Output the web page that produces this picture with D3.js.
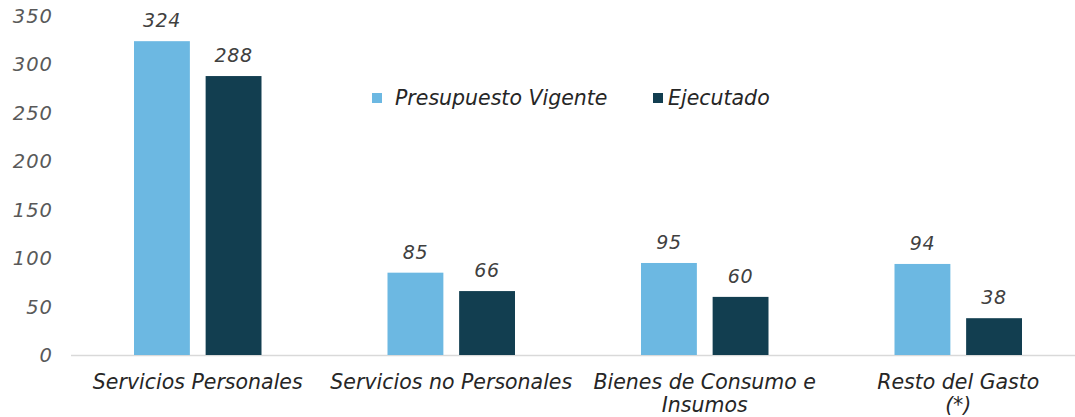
<!DOCTYPE html>
<html>
<head>
<meta charset="utf-8">
<script src="https://cdn.jsdelivr.net/npm/d3@7"></script>
<style>
    body { margin: 0; background: #fff; }
    svg text { font-family: "DejaVu Sans", sans-serif; font-style: italic; }
</style>
</head>
<body>
<svg id="chart" width="1075" height="417"></svg>
<script>
'use strict';

const categories = [
    ['Servicios Personales'],
    ['Servicios no Personales'],
    ['Bienes de Consumo e', 'Insumos'],
    ['Resto del Gasto', '(*)']
];
const seriesNames = ['Presupuesto Vigente', 'Ejecutado'];
const presupuesto = [324, 85, 95, 94];
const ejecutado = [288, 66, 60, 38];
const yTicks = [0, 50, 100, 150, 200, 250, 300, 350];

const colors = ['#6cb8e2', '#123e50'];

const svg = d3.select('#chart');
const margin = { left: 71, right: -10, top: 16, bottom: 62 };
const width = 1075 - margin.left - margin.right;
const height = 417 - margin.top - margin.bottom;

const g = svg.append('g').attr('transform', `translate(${margin.left},${margin.top})`);

const x = d3.scaleBand()
    .domain(d3.range(categories.length))
    .range([0, width]);

const x1 = d3.scaleBand()
    .domain(d3.range(seriesNames.length))
    .range([63, x.bandwidth() - 63])
    .paddingInner(0.22);

const y = d3.scaleLinear().domain([0, 350]).range([height, 0]);

// y axis labels
g.append('g')
    .selectAll('text')
    .data(yTicks)
    .join('text')
    .attr('x', -18)
    .attr('y', d => y(d))
    .attr('dy', '0.36em')
    .attr('text-anchor', 'end')
    .attr('fill', '#595959')
    .style('font-size', '19.5px')
    .style('letter-spacing', '1px')
    .text(d => d);

// baseline
g.append('line')
    .attr('x1', 0)
    .attr('x2', 1075 - margin.left)
    .attr('y1', y(0) + 0.5)
    .attr('y2', y(0) + 0.5)
    .attr('stroke', '#d9d9d9')
    .attr('stroke-width', 1.5);

const rows = categories.map((c, i) => [presupuesto[i], ejecutado[i]]);

const groups = g.selectAll('.group')
    .data(rows)
    .join('g')
    .attr('class', 'group')
    .attr('transform', (d, i) => `translate(${x(i)},0)`);

groups.selectAll('rect')
    .data(d => d)
    .join('rect')
    .attr('x', (d, j) => x1(j))
    .attr('y', d => y(d))
    .attr('width', x1.bandwidth())
    .attr('height', d => y(0) - y(d))
    .attr('fill', (d, j) => colors[j]);

groups.selectAll('.value')
    .data(d => d)
    .join('text')
    .attr('class', 'value')
    .attr('x', (d, j) => x1(j) + x1.bandwidth() / 2)
    .attr('y', d => y(d) - 14)
    .attr('text-anchor', 'middle')
    .attr('fill', '#404040')
    .style('font-size', '19px')
    .style('letter-spacing', '0.6px')
    .text(d => d);

// category labels
g.append('g')
    .selectAll('text')
    .data(categories)
    .join('text')
    .attr('x', (d, i) => x(i) + x.bandwidth() / 2)
    .attr('y', height + 34)
    .attr('text-anchor', 'middle')
    .attr('fill', '#262626')
    .style('font-size', '20.5px')
    .each(function(lines) {
        d3.select(this).selectAll('tspan')
            .data(lines)
            .join('tspan')
            .attr('x', d3.select(this).attr('x'))
            .attr('dy', (d, k) => k === 0 ? 0 : 23)
            .text(d => d);
    });

// legend
const legend = svg.append('g');
const legendItems = [
    { name: seriesNames[0], color: colors[0], x: 372, gap: 23 },
    { name: seriesNames[1], color: colors[1], x: 653, gap: 15 }
];
legendItems.forEach(item => {
    legend.append('rect')
        .attr('x', item.x)
        .attr('y', 93)
        .attr('width', 10)
        .attr('height', 10)
        .attr('fill', item.color);
    legend.append('text')
        .attr('x', item.x + item.gap)
        .attr('y', 105)
        .attr('fill', '#262626')
        .style('font-size', '20.5px')
        .text(item.name);
});
</script>
</body>
</html>
